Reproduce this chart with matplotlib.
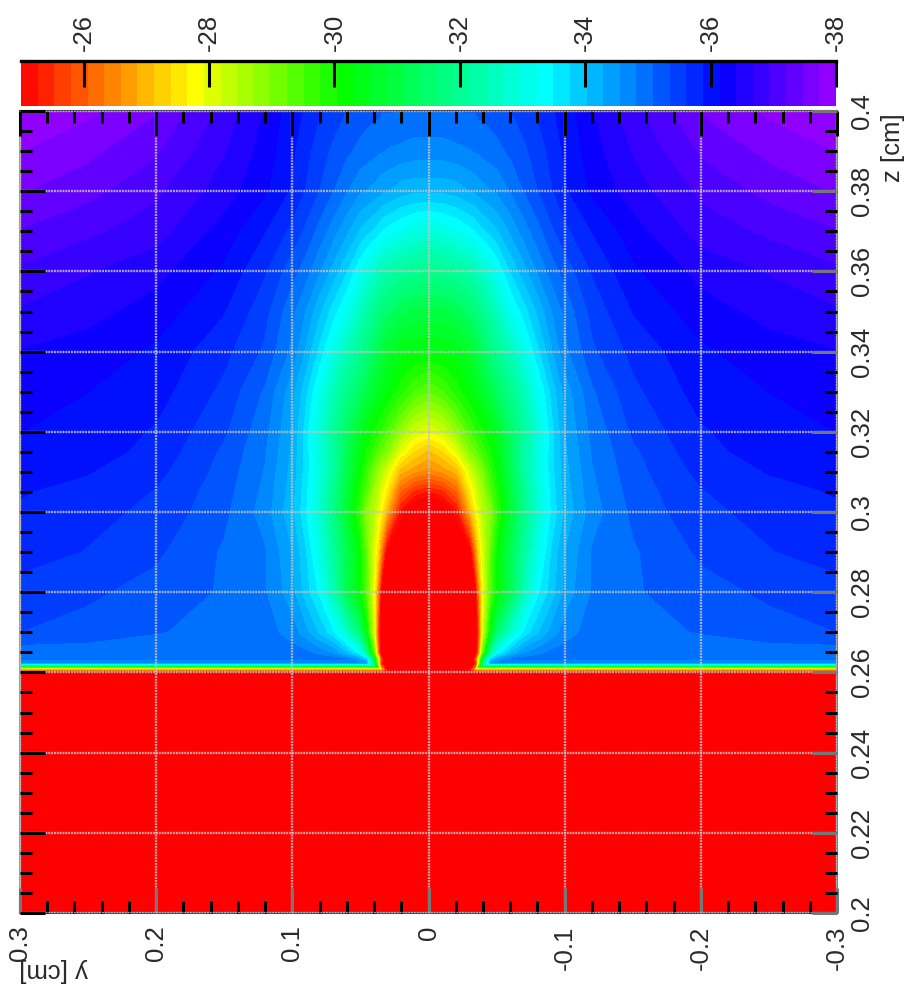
import numpy as np
import matplotlib
matplotlib.use('Agg')
import matplotlib.pyplot as plt
from matplotlib.colors import LinearSegmentedColormap, ListedColormap, BoundaryNorm

plt.rcParams['font.family'] = ['Liberation Sans', 'DejaVu Sans']

# distance from the axis y=0 (field is mirrored), cm
y_half = [0, .01, .02, .03, .034, .036, .039, .045, .05, .06, .07, .08, .09, .10, .12, .15, .20, .25, .30]
z_rows = [.20, .2596, .2602, .2607, .2612, .2618, .2622, .2635, .265, .27, .28, .29, .30, .305, .31, .315,
          .32, .33, .34, .35, .36, .37, .38, .39, .40]

field = [
    [-24]*19,
    [-24.5]*19,
    [-24, -24, -24, -25, -25.9, -25.9, -25.9, -25.9, -25.9, -25.9, -25.9, -25.9, -25.9, -25.9, -25.9, -25.9, -25.9, -25.9, -25.9],
    [-24, -24, -24, -25.5, -27.75, -27.75, -27.75, -27.75, -27.75, -27.75, -27.75, -27.75, -27.75, -27.75, -27.75, -27.75, -27.75, -27.75, -27.75],
    [-24, -24, -24, -24.8, -26.8, -30.2, -30.2, -30.2, -30.2, -30.2, -30.2, -30.2, -30.2, -30.2, -30.2, -30.2, -30.2, -30.2, -30.2],
    [-24, -24, -24, -24.5, -26, -29, -33.36, -33.36, -33.36, -33.36, -33.36, -33.36, -33.36, -33.36, -33.36, -33.36, -33.36, -33.36, -33.36],
    [-24, -24, -24, -24, -25.5, -28, -31.5, -34.6, -34.6, -34.6, -34.6, -34.6, -34.6, -34.6, -34.6, -34.6, -34.6, -34.6, -34.6],
    [-24, -24, -24, -24, -25.8, -28, -31, -33.8, -34.4, -34.9, -35, -35, -35, -35, -35, -35, -35, -35, -35],
    [-24, -24, -24, -24, -24.8, -26.2, -29.2, -32, -33.36, -34.1, -34.55, -34.75, -34.9, -34.95, -34.95, -34.95, -34.95, -34.95, -34.95],
    [-24, -24, -24, -24, -24.6, -25.6, -28, -30.4, -31.6, -32.8, -33.6, -34, -34.4, -34.7, -34.95, -35.0, -35.1, -35.25, -35.35],
    [-24, -24, -24, -24, -25, -26.3, -27.8, -29.4, -30.2, -31.2, -32.5, -33.45, -33.9, -34.4, -34.85, -35.05, -35.25, -35.4, -35.5],
    [-24, -24, -24.3, -24.9, -26.5, -27.3, -28, -29.3, -30.2, -31.2, -32.2, -33.1, -33.8, -34.3, -34.85, -35.05, -35.4, -35.6, -35.75],
    [-24, -24.5, -25.2, -27, -27.75, -28, -28.4, -28.9, -29.7, -30.9, -31.9, -32.8, -33.55, -34.1, -34.7, -35.15, -35.55, -35.7, -35.85],
    [-25.3, -25.5, -26.1, -27.6, -28, -28.3, -28.6, -29.4, -29.9, -31, -32, -32.9, -33.6, -34.15, -34.75, -35.2, -35.6, -35.8, -35.9],
    [-26.5, -26.7, -27, -28.1, -28.5, -28.7, -29, -29.7, -30.2, -31.2, -32.2, -33, -33.65, -34.2, -34.8, -35.25, -35.7, -35.9, -36],
    [-27.1, -27.4, -28, -29, -29.2, -29.35, -29.6, -30, -30.4, -31.3, -32.2, -33, -33.65, -34.25, -34.85, -35.3, -35.8, -36, -36.1],
    [-28, -28.2, -28.8, -29.5, -29.75, -29.85, -30, -30.3, -30.65, -31.4, -32.15, -32.9, -33.65, -34.3, -34.9, -35.4, -35.85, -36.05, -36.15],
    [-29.3, -29.5, -29.9, -30.3, -30.45, -30.55, -30.7, -31.05, -31.4, -31.9, -32.5, -33.2, -33.85, -34.4, -35.05, -35.55, -36, -36.15, -36.25],
    [-30.3, -30.35, -30.4, -30.7, -30.95, -31.1, -31.3, -31.7, -32, -32.5, -33.1, -33.7, -34.25, -34.75, -35.3, -35.7, -36.1, -36.3, -36.4],
    [-31, -31.05, -31.2, -31.5, -31.65, -31.75, -31.95, -32.25, -32.6, -33.2, -33.65, -34.1, -34.55, -34.9, -35.45, -35.9, -36.3, -36.5, -36.65],
    [-31.9, -32, -32.1, -32.3, -32.45, -32.55, -32.7, -33, -33.25, -33.8, -34.2, -34.6, -34.95, -35.2, -35.65, -36.1, -36.5, -36.7, -36.9],
    [-32.9, -33, -33.2, -33.4, -33.5, -33.6, -33.7, -33.85, -34, -34.35, -34.7, -35, -35.3, -35.55, -35.9, -36.3, -36.8, -37, -37.2],
    [-34.1, -34.1, -34.15, -34.3, -34.35, -34.4, -34.45, -34.55, -34.6, -34.85, -35.1, -35.35, -35.6, -35.85, -36.2, -36.55, -37, -37.3, -37.5],
    [-34.7, -34.7, -34.75, -34.8, -34.85, -34.85, -34.9, -34.95, -35, -35.15, -35.3, -35.5, -35.7, -35.95, -36.3, -36.7, -37.25, -37.55, -37.75],
    [-35.05, -35.05, -35.1, -35.1, -35.1, -35.15, -35.15, -35.2, -35.25, -35.35, -35.5, -35.65, -35.85, -36, -36.4, -36.85, -37.5, -37.8, -38],
]

y_ticks = [0.3, 0.2, 0.1, 0, -0.1, -0.2, -0.3]
y_labels = ['0.3', '0.2', '0.1', '0', '-0.1', '-0.2', '-0.3']
z_ticks = [0.2, 0.22, 0.24, 0.26, 0.28, 0.3, 0.32, 0.34, 0.36, 0.38, 0.4]
z_labels = ['0.2', '0.22', '0.24', '0.26', '0.28', '0.3', '0.32', '0.34', '0.36', '0.38', '0.4']
cbar_ticks = [-26, -28, -30, -32, -34, -36, -38]
cbar_labels = ['-26', '-28', '-30', '-32', '-34', '-36', '-38']

n_bands = 49
levels = np.linspace(-38, -25, n_bands + 1)

W, H = 908, 989
FS = 18.5
INK = '#2a2a2a'

# rainbow, high values first
rainbow = LinearSegmentedColormap.from_list('rb', [
    (0.0, (1, 0, 0)), (0.211, (1, 1, 0)), (0.398, (0, 1, 0)),
    (0.643, (0, 1, 1)), (0.861, (0, 0, 1)), (1.0, (0.6, 0, 1))])
band_colors = [rainbow(1 - (i + 0.5) / n_bands) for i in range(n_bands)]
cmap = ListedColormap(band_colors)
cmap.set_over((1, 0, 0))
cmap.set_under((0.6, 0, 1))
norm = BoundaryNorm(levels, cmap.N)


def fig_axes(left, top, right, bottom):
    return fig.add_axes([left / W, 1 - bottom / H, (right - left) / W, (bottom - top) / H])


fig = plt.figure(figsize=(W / 100, H / 100), dpi=100)

# main panel
ax = fig_axes(20, 111, 837, 913)
half = np.array(y_half)
y_full = np.concatenate((-half[:0:-1], half))
f = np.array(field, dtype=float)
f_full = np.hstack((f[:, :0:-1], f))
cs = ax.contourf(y_full, z_rows, f_full, levels=levels, cmap=cmap, norm=norm, extend='both')
cs.set_edgecolor('face')   # no seams between the bands
cs.set_linewidth(0.4)
ax.set_xlim(0.3, -0.3)
ax.set_ylim(0.2, 0.4)
ax.set_xticks(y_ticks)
ax.set_xticklabels(y_labels, rotation=90, ha='center', va='top', fontsize=FS, color=INK)
ax.set_yticks(z_ticks)
ax.set_yticklabels(z_labels, rotation=90, ha='left', va='center', fontsize=FS, color=INK)
ax.set_xticks(np.arange(-0.3, 0.3001, 0.02), minor=True)
ax.set_yticks(np.arange(0.2, 0.4001, 0.005), minor=True)
ax.tick_params(which='major', direction='in', top=True, bottom=True, left=True, right=True,
               labelleft=False, labelright=True, length=18, width=2.2, color='black')
ax.tick_params(which='minor', direction='in', top=True, bottom=True, left=True, right=True,
               length=8.5, width=2.2, color='black')
ax.tick_params(axis='x', which='major', pad=9)
ax.tick_params(axis='y', which='major', pad=9)
ax.set_axisbelow(False)
ax.grid(True, which='major', color='#c4c4c4', alpha=0.85, linestyle=(0, (0.8, 0.4)), linewidth=1.7)
# grid runs over the major ticks on the bottom and right sides
for t in ax.xaxis.get_major_ticks():
    t.tick1line.set_markeredgecolor('#777777')
for t in ax.yaxis.get_major_ticks():
    t.tick2line.set_markeredgecolor('#777777')
ax.spines['top'].set_color('#505050')
ax.spines['bottom'].set_color('#505050')
ax.spines['left'].set_color('#a0a0a0')
ax.spines['right'].set_color('#808080')
for s in ax.spines.values():
    s.set_linewidth(1.5)

# colour bar
cax = fig_axes(21, 61, 836, 106)
cax.pcolormesh(levels, [0, 1], ((levels[:-1] + levels[1:]) / 2).reshape(1, -1), cmap=cmap, norm=norm)
cax.set_xlim(-25, -38)
cax.set_ylim(0, 1)
cax.set_yticks([])
cax.xaxis.tick_top()
cax.set_xticks(cbar_ticks)
cax.set_xticklabels(cbar_labels, rotation=90, ha='center', va='bottom', fontsize=FS, color=INK)
cax.tick_params(axis='x', direction='in', length=19, width=2.2, color='black', pad=7)
for side in ['left', 'right', 'bottom']:
    cax.spines[side].set_visible(False)
cax.spines['top'].set_linewidth(2.4)

fig.text(54 / W, 1 - 970 / H, 'y [cm]', rotation=180, ha='center', va='center', fontsize=FS, color=INK)
fig.text(893 / W, 1 - 148 / H, 'z [cm]', rotation=90, ha='center', va='center', fontsize=FS, color=INK)

fig.savefig('out.png', dpi=100)
